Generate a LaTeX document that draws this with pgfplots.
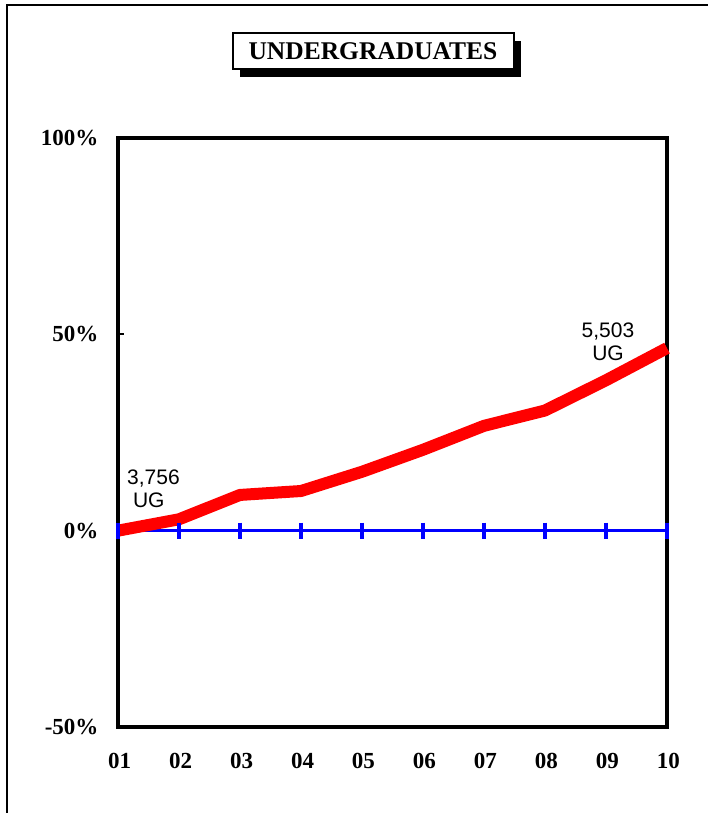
\documentclass[border=0pt]{standalone}
\usepackage{pgfplots}
\pgfplotsset{compat=1.18}
\usepackage{fontspec}
\setmainfont{Liberation Serif}
\newfontfamily\arial{Liberation Sans}
\begin{document}
\begin{tikzpicture}
\path[use as bounding box] (0,0) rectangle (707pt,-813pt);
\draw[line width=2pt] (7pt,-830pt) -- (7pt,-5pt) -- (730pt,-5pt);
% title box with shadow
\fill[black] (240pt,-41pt) rectangle (521pt,-77pt);
\draw[line width=2pt, fill=white] (233pt,-33pt) rectangle (514pt,-69pt);
\node at (373pt,-51pt) {\fontsize{25.5}{28}\selectfont\bfseries UNDERGRADUATES};
\begin{axis}[
  at={(118pt,-727pt)}, anchor=south west,
  width=549pt, height=589pt, scale only axis,
  xmin=1, xmax=10, ymin=-50, ymax=100,
  clip=false,
  axis line style={line width=4pt, line join=miter},
  xtick={1,2,3,4,5,6,7,8,9,10},
  xticklabels={01,02,03,04,05,06,07,08,09,10},
  ytick={-50,0,50,100},
  yticklabel={\pgfmathprintnumber{\tick}\%},
  ytick pos=left,
  tick align=inside,
  major tick length=6pt,
  ytick style={black, line width=2pt},
  xtick style={draw=none},
  /pgf/number format/assume math mode=true,
  ticklabel style={font=\fontsize{23}{25}\selectfont\bfseries},
  yticklabel style={anchor=east, xshift=-16pt},
  xticklabel style={yshift=-23pt, xshift=1.5pt},
]
\addplot[blue, line width=3.5pt, mark=|, mark size=8pt, mark options={line width=3.5pt, blue}]
  coordinates {(1,0)(2,0)(3,0)(4,0)(5,0)(6,0)(7,0)(8,0)(9,0)(10,0)};
\addplot[red, line width=12pt, line join=round] coordinates {
  (1,0) (2,2.9) (3,9.1) (4,10.1) (5,15.0) (6,20.6) (7,26.7) (8,30.6) (9,38.3) (10,46.5)};
\node[anchor=north west, inner sep=0pt, align=left, font=\arial\fontsize{21}{23}\selectfont]
  at (axis cs:1.148,15.56) {3,756\\\ UG};
\node[anchor=north, inner sep=0pt, align=center, font=\arial\fontsize{21}{23}\selectfont]
  at (axis cs:9.033,53.06) {5,503\\UG};
\end{axis}
\end{tikzpicture}
\end{document}
